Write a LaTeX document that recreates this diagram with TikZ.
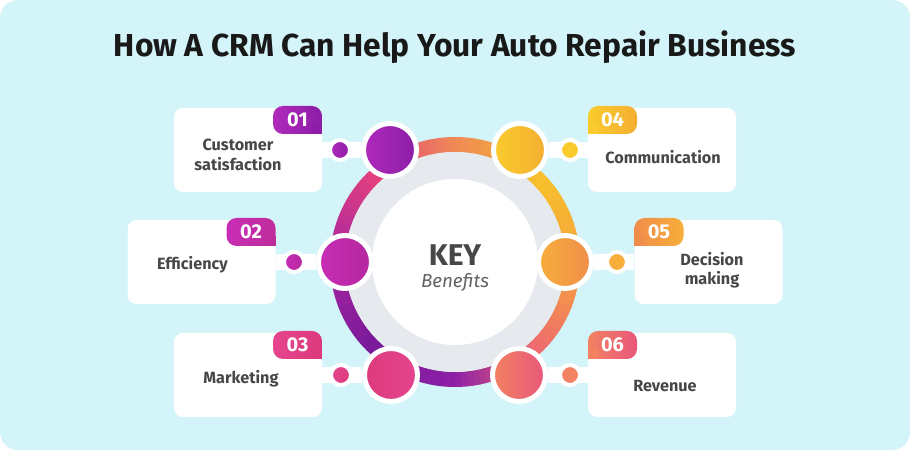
\documentclass[tikz,border=0pt]{standalone}
\usepackage{fontspec}
\setmainfont{Fira Sans}
\usepackage{xcolor}
\usepackage{tikz}
\usetikzlibrary{backgrounds,positioning}
\definecolor{Sky}{HTML}{D3F4F8}
\definecolor{Ink}{HTML}{474747}
\definecolor{Mist}{HTML}{E6E9ED}
\definecolor{PurpleA}{HTML}{B02ABA}
\definecolor{PurpleB}{HTML}{8B1DA6}
\definecolor{MagentaA}{HTML}{C72DB5}
\definecolor{MagentaB}{HTML}{B5279F}
\definecolor{PinkA}{HTML}{E5458E}
\definecolor{PinkB}{HTML}{DC3A7C}
\definecolor{YellowA}{HTML}{F9CB2C}
\definecolor{YellowB}{HTML}{F4AE33}
\definecolor{OrangeA}{HTML}{F7AE3A}
\definecolor{OrangeB}{HTML}{F08D4C}
\definecolor{CoralA}{HTML}{F28262}
\definecolor{CoralB}{HTML}{E8577A}
% ring hues, every 45 degrees (y runs downwards)
\definecolor{ring0}{HTML}{F5A33E}
\definecolor{ring1}{HTML}{EF6B6E}
\definecolor{ring2}{HTML}{8C1FA6}
\definecolor{ring3}{HTML}{7A1A9A}
\definecolor{ring4}{HTML}{A8259F}
\definecolor{ring5}{HTML}{E2407F}
\definecolor{ring6}{HTML}{F08A55}
\definecolor{ring7}{HTML}{F7C02C}
\newdimen\pxu \pxu=0.85pt

\begin{document}
\begin{tikzpicture}[x=0.85pt,y=-0.85pt,
  card/.style={rectangle,fill=white,rounded corners=9\pxu,minimum width=148\pxu,minimum height=84\pxu,inner sep=0},
  badge/.style={rectangle,rounded corners=10\pxu,minimum width=49\pxu,minimum height=28\pxu,inner sep=0,
    text=white,font=\fontsize{17}{18}\selectfont\bfseries},
  cardtext/.style={align=center,text=Ink,font=\fontsize{13.8}{16.5}\selectfont\bfseries},
  sat/.style={circle,inner sep=0,minimum size=53\pxu,draw=white,line width=5\pxu},
  dot/.style={circle,inner sep=0,minimum size=20\pxu,draw=white,line width=4\pxu},
  bar/.style={white,line width=16\pxu}
]
\useasboundingbox (0,0) rectangle (910,450);
\begin{scope}[on background layer]
  \fill[white] (0,0) rectangle (910,450);
  \fill[Sky,rounded corners=18\pxu] (0,0) rectangle (910,450);
\end{scope}

\node[font=\fontsize{27}{30}\selectfont\bfseries,text=black!90] (title) at (455,47) {How A CRM Can Help Your Auto Repair Business};

% centre wheel
\begin{scope}[shift={(455,262)}]
  \foreach \a in {0,3,...,357}{
    \pgfmathtruncatemacro{\ki}{floor(\a/45)}
    \pgfmathtruncatemacro{\kj}{mod(\ki+1,8)}
    \pgfmathtruncatemacro{\pc}{100-100*mod(\a,45)/45}
    \draw[line width=15\pxu,ring\ki!\pc!ring\kj] (\a:117.5) arc[start angle=\a,end angle=\a+3.4,radius=117.5];
  }
  \fill[Mist] (0,0) circle[radius=110];
  \fill[white] (0,0) circle[radius=83];
\end{scope}
\node[font=\fontsize{25.5}{27}\selectfont\bfseries,text=Ink] (key) at (455,255) {KEY};
\node[font=\fontsize{16}{18}\selectfont\itshape,text=Ink!85] (ben) at (455,282) {Benefits};

% cards
\node[card] (c1) at (248,150) {};
\node[card] (c2) at (201.5,262) {};
\node[card] (c3) at (248,375) {};
\node[card] (c4) at (662,150) {};
\node[card] (c5) at (708.5,262) {};
\node[card] (c6) at (662,375) {};

\node[badge,left color=PurpleA,right color=PurpleB,anchor=north east] (b1) at ([yshift=2\pxu]c1.north east) {01};
\node[badge,left color=MagentaA,right color=MagentaB!80!PinkA,anchor=north east] (b2) at ([yshift=2\pxu]c2.north east) {02};
\node[badge,left color=PinkA,right color=PinkB,anchor=north east] (b3) at ([yshift=2\pxu]c3.north east) {03};
\node[badge,left color=YellowA,right color=YellowB,anchor=north west] (b4) at ([yshift=2\pxu]c4.north west) {04};
\node[badge,left color=OrangeB,right color=OrangeA,anchor=north west] (b5) at ([yshift=2\pxu]c5.north west) {05};
\node[badge,left color=CoralA,right color=CoralB,anchor=north west] (b6) at ([yshift=2\pxu]c6.north west) {06};
\fill[PurpleB] (b1.south east) rectangle ++(-10\pxu,10\pxu);
\fill[MagentaB!80!PinkA] (b2.south east) rectangle ++(-10\pxu,10\pxu);
\fill[PinkB] (b3.south east) rectangle ++(-10\pxu,10\pxu);
\fill[YellowA] (b4.south west) rectangle ++(10\pxu,10\pxu);
\fill[OrangeB] (b5.south west) rectangle ++(10\pxu,10\pxu);
\fill[CoralA] (b6.south west) rectangle ++(10\pxu,10\pxu);

\node[cardtext] (t1) at ([shift={(-10\pxu,-5\pxu)}]c1.center) {Customer\\satisfaction};
\node[cardtext] (t2) at ([shift={(-9\pxu,-3\pxu)}]c2.center) {Efficiency};
\node[cardtext] (t3) at ([shift={(-7\pxu,-4\pxu)}]c3.center) {Marketing};
\node[cardtext] (t4) at ([shift={(1\pxu,-7\pxu)}]c4.center) {Communication};
\node[cardtext] (t5) at ([shift={(3.5\pxu,-8\pxu)}]c5.center) {Decision\\making};
\node[cardtext] (t6) at ([shift={(3\pxu,-11\pxu)}]c6.center) {Revenue};

% satellites
\node[sat,left color=PurpleA,right color=PurpleB] (s1) at (390,150) {};
\node[sat,left color=MagentaA,right color=MagentaB] (s2) at (345,262) {};
\node[sat,left color=PinkB,right color=PinkA] (s3) at (391,375) {};
\node[sat,left color=YellowA,right color=YellowB] (s4) at (520,150) {};
\node[sat,left color=OrangeA,right color=OrangeB] (s5) at (565,262) {};
\node[sat,left color=CoralA,right color=CoralB] (s6) at (519,375) {};

\begin{scope}[on background layer]
  \draw[bar] (c1.east) -- (s1);
  \draw[bar] (c2.east) -- (s2);
  \draw[bar] (c3.east) -- (s3);
  \draw[bar] (c4.west) -- (s4);
  \draw[bar] (c5.west) -- (s5);
  \draw[bar] (c6.west) -- (s6);
\end{scope}

\node[dot,left color=PurpleA,right color=PurpleB] (d1) at (340,150) {};
\node[dot,left color=MagentaA,right color=MagentaB] (d2) at (294,262) {};
\node[dot,left color=PinkA,right color=PinkB] (d3) at (341,375) {};
\node[dot,fill=YellowA] (d4) at (570,150) {};
\node[dot,fill=OrangeA] (d5) at (617,262) {};
\node[dot,fill=CoralA] (d6) at (570,375) {};
\end{tikzpicture}
\end{document}
